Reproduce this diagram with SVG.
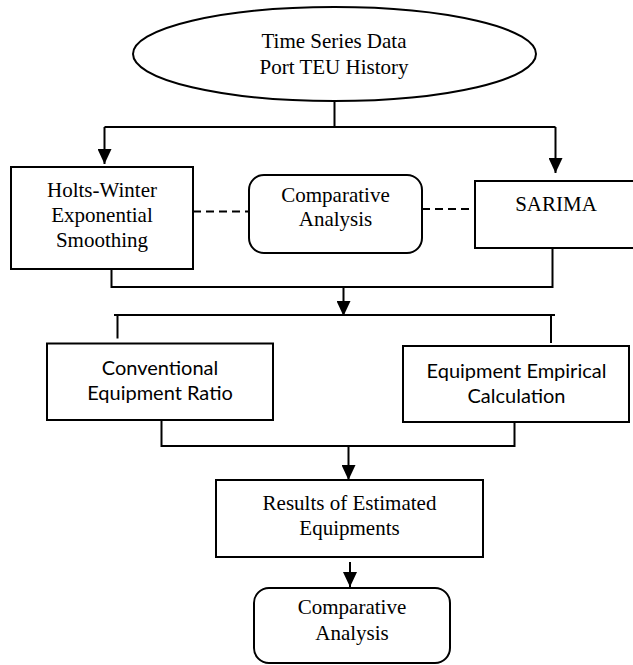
<svg xmlns="http://www.w3.org/2000/svg" width="633" height="665" viewBox="0 0 633 665">
<style>
.box{fill:#fff;stroke:#000;stroke-width:2}
.ln{fill:none;stroke:#000;stroke-width:2}
.dash{fill:none;stroke:#000;stroke-width:2;stroke-dasharray:8,5}
.tr{font-family:"Liberation Serif","Times New Roman",serif;font-size:21px;fill:#000;text-anchor:middle}
.tc{font-family:Lato,"Open Sans","Liberation Sans",sans-serif;font-size:20px;fill:#000;text-anchor:middle}
</style>
<defs>
<marker id="ah" viewBox="0 0 15 14" refX="15" refY="7" markerWidth="15" markerHeight="14" markerUnits="userSpaceOnUse" orient="auto">
<path d="M0,0 L15,7 L0,14 z" fill="#000"/>
</marker>
</defs>
<g id="connectors">
<path class="ln" d="M334.5,101 V127 M104.5,127 H555.5"/>
<path class="ln" d="M104.5,127 V164" marker-end="url(#ah)"/>
<path class="ln" d="M555.5,127 V173" marker-end="url(#ah)"/>
<path class="dash" d="M193,211.5 H249"/>
<path class="dash" d="M422,209 H475"/>
<path class="ln" d="M111.5,269 V287 H552.5 V248"/>
<path class="ln" d="M343.5,287 V316" marker-end="url(#ah)"/>
<path class="ln" d="M114,315 H555 M117.5,315 V338.5 M551,315 V343"/>
<path class="ln" d="M161.5,420 V446 H514.5 V422"/>
<path class="ln" d="M348.5,446 V480" marker-end="url(#ah)"/>
<path class="ln" d="M350,562 V587" marker-end="url(#ah)"/>
</g>
<g id="time-series">
<ellipse class="box" cx="334.5" cy="54" rx="201.5" ry="47"/>
<text class="tr" x="334" y="48">Time Series Data</text>
<text class="tr" x="334" y="74">Port TEU History</text>
</g>
<g id="holts-winter">
<rect class="box" x="11" y="167" width="182" height="102"/>
<text class="tr" x="102" y="197">Holts-Winter</text>
<text class="tr" x="102" y="222">Exponential</text>
<text class="tr" x="102" y="247">Smoothing</text>
</g>
<g id="comparative-1">
<rect class="box" x="249" y="175" width="173" height="78" rx="15"/>
<text class="tr" x="335.5" y="201.5">Comparative</text>
<text class="tr" x="335.5" y="225.5">Analysis</text>
</g>
<g id="sarima">
<rect class="box" x="475" y="181" width="175" height="67"/>
<text class="tr" x="556" y="211">SARIMA</text>
</g>
<g id="conventional">
<rect class="box" x="47" y="343.5" width="226" height="76.5"/>
<text class="tc" x="160" y="375">Conventional</text>
<text class="tc" x="160" y="400">Equipment Ratio</text>
</g>
<g id="empirical">
<rect class="box" x="403" y="346" width="226" height="76"/>
<text class="tc" x="516.5" y="377.5">Equipment Empirical</text>
<text class="tc" x="516.5" y="403">Calculation</text>
</g>
<g id="results">
<rect class="box" x="216" y="480" width="267" height="77"/>
<text class="tr" x="349.5" y="510">Results of Estimated</text>
<text class="tr" x="349.5" y="535">Equipments</text>
</g>
<g id="comparative-2">
<rect class="box" x="254" y="588" width="196" height="75" rx="15"/>
<text class="tr" x="352" y="614">Comparative</text>
<text class="tr" x="352" y="640">Analysis</text>
</g>
</svg>
